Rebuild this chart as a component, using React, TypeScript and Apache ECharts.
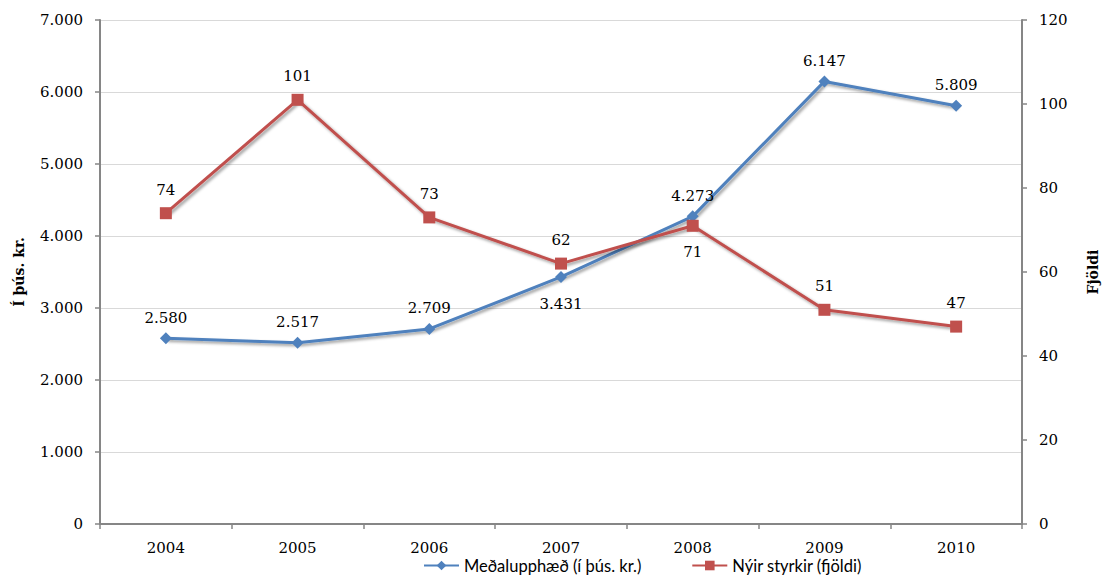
import React, { useEffect, useRef } from "react";
import * as echarts from "echarts";

const years = ["2004", "2005", "2006", "2007", "2008", "2009", "2010"];
const avgAmount = [2580, 2517, 2709, 3431, 4273, 6147, 5809];
const newGrants = [74, 101, 73, 62, 71, 51, 47];
const avgLabelPos = ["top", "top", "top", "bottom", "top", "top", "top"];
const grantLabelPos = ["top", "top", "top", "top", "bottom", "top", "top"];

const BLUE = "#4F81BD";
const RED = "#C0504D";
const AXIS = "#868686";
const SERIF = "'DejaVu Serif', serif";
const SANS = "Lato, 'Noto Sans', sans-serif";
const FS = 15;

const fmt = (v: number) => String(v).replace(/\B(?=(\d{3})+(?!\d))/g, ".");

export default function App() {
  const ref = useRef<HTMLDivElement>(null);
  useEffect(() => {
    document.body.style.margin = "0";
    const chart = echarts.init(ref.current!, null, { renderer: "svg" });
    const shadow = {
      shadowColor: "rgba(0,0,0,0.4)",
      shadowBlur: 3,
      shadowOffsetX: 2,
      shadowOffsetY: 2,
    };
    chart.setOption({
      animation: false,
      backgroundColor: "#ffffff",
      grid: { left: 100, right: 76, top: 20, bottom: 57, containLabel: false },
      legend: {
        bottom: 2,
        left: 418,
        itemWidth: 35,
        itemHeight: 12,
        itemGap: 50,
        textStyle: { fontFamily: SANS, fontSize: 16.5, color: "#000" },
        data: ["Meðalupphæð (í þús. kr.)", "Nýir styrkir (fjöldi)"],
      },
      xAxis: {
        type: "category",
        data: years,
        boundaryGap: true,
        axisLine: { lineStyle: { color: AXIS, width: 2 } },
        axisTick: { show: true, length: 5, lineStyle: { color: AXIS, width: 1.5 } },
        axisLabel: { fontFamily: SERIF, fontSize: FS, color: "#000", margin: 16 },
      },
      yAxis: [
        {
          type: "value",
          min: 0,
          max: 7000,
          interval: 1000,
          name: "Í þús. kr.",
          nameLocation: "middle",
          nameRotate: 90,
          nameGap: 74,
          nameTextStyle: { fontFamily: SERIF, fontSize: 14, fontWeight: "bold", color: "#000" },
          axisLine: { show: true, lineStyle: { color: AXIS, width: 2 } },
          axisTick: { show: true, length: 5, lineStyle: { color: AXIS, width: 1.5 } },
          axisLabel: { fontFamily: SERIF, fontSize: FS, color: "#000", margin: 17, formatter: fmt },
          splitLine: { show: true, lineStyle: { color: "#D9D9D9", width: 1 } },
        },
        {
          type: "value",
          min: 0,
          max: 120,
          interval: 20,
          position: "right",
          name: "Fjöldi",
          nameLocation: "middle",
          nameRotate: 90,
          nameGap: 64,
          nameTextStyle: { fontFamily: SERIF, fontSize: 14, fontWeight: "bold", color: "#000" },
          axisLine: { show: true, lineStyle: { color: AXIS, width: 2 } },
          axisTick: { show: true, length: 5, lineStyle: { color: AXIS, width: 1.5 } },
          axisLabel: { fontFamily: SERIF, fontSize: FS, color: "#000", margin: 17 },
          splitLine: { show: false },
        },
      ],
      series: [
        {
          name: "Meðalupphæð (í þús. kr.)",
          type: "line",
          yAxisIndex: 0,
          symbol: "diamond",
          symbolSize: 12,
          itemStyle: { color: BLUE },
          lineStyle: { color: BLUE, width: 3, ...shadow },
          data: avgAmount.map((v, i) => ({
            value: v,
            label: {
              position: avgLabelPos[i],
              distance: avgLabelPos[i] === "bottom" ? 14 : 7,
            },
          })),
          label: {
            show: true,
            fontFamily: SERIF,
            fontSize: FS,
            color: "#000",
            formatter: (p: any) => fmt(p.value),
          },
          z: 2,
        },
        {
          name: "Nýir styrkir (fjöldi)",
          type: "line",
          yAxisIndex: 1,
          symbol: "rect",
          symbolSize: 12,
          itemStyle: { color: RED },
          lineStyle: { color: RED, width: 3, ...shadow },
          data: newGrants.map((v, i) => ({
            value: v,
            label: {
              position: grantLabelPos[i],
              distance: grantLabelPos[i] === "bottom" ? 13 : 10,
            },
          })),
          label: {
            show: true,
            fontFamily: SERIF,
            fontSize: FS,
            color: "#000",
          },
          z: 3,
        },
      ],
    });
    return () => chart.dispose();
  }, []);
  return <div ref={ref} style={{ width: 1108, height: 581 }} />;
}
